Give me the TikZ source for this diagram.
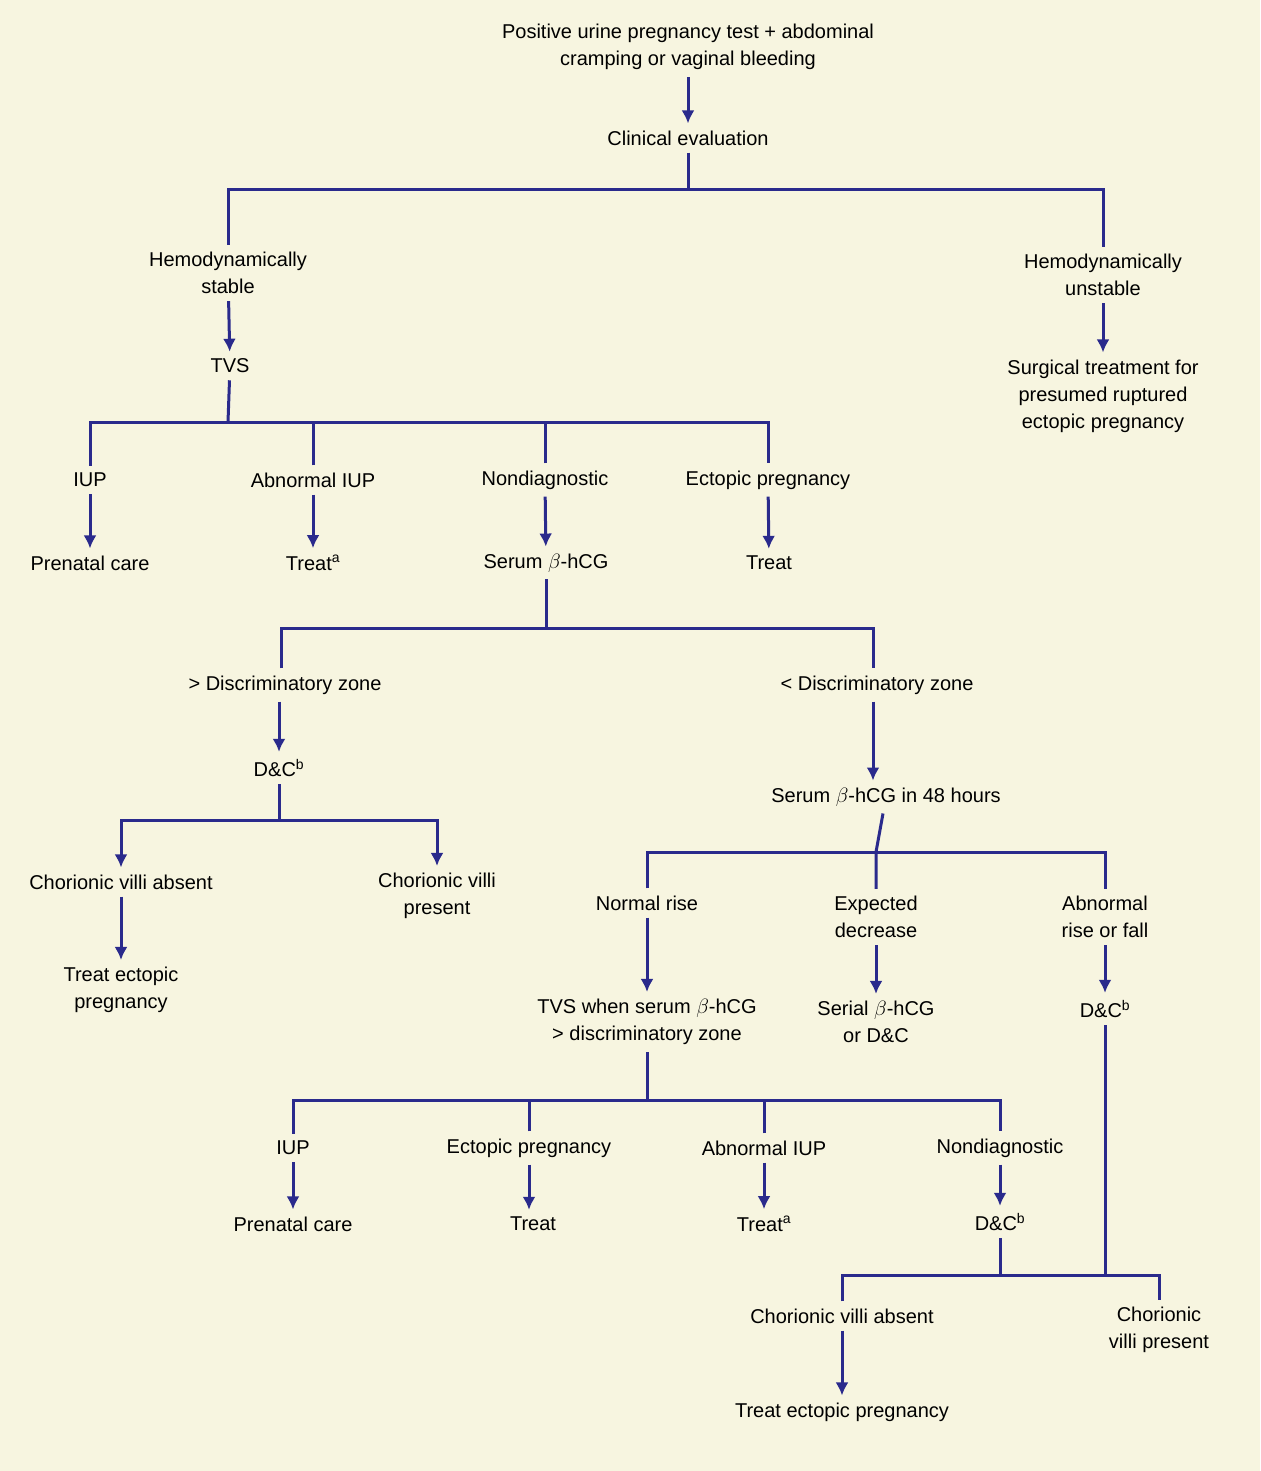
\documentclass[tikz,border=0pt]{standalone}
\usepackage{fontspec}
\setmainfont{Liberation Sans}
\usetikzlibrary{arrows.meta,positioning}
\definecolor{bgcol}{RGB}{247,245,224}
\definecolor{linecol}{RGB}{42,42,140}
\tikzset{
  box/.style={align=center,inner sep=7pt,font=\fontsize{20}{27}\selectfont,text=black},
  line/.style={draw=linecol,line width=3pt},
  arr/.style={line,-{Latex[length=13pt,width=13pt]}}
}
\begin{document}
\begin{tikzpicture}[x=1pt,y=-1pt]
  \fill[bgcol] (0,0) rectangle (1260,1471);
  \useasboundingbox (0,0) rectangle (1260,1471);
%%
  % Node: top part
  \node[box] (pos) at (688,47) {Positive urine pregnancy test + abdominal\\cramping or vaginal bleeding};
  \node[box] (clin) at (688,138) {Clinical evaluation};
  \node[box] (hs) at (228,273) {Hemodynamically\\stable};
  \node[box] (hu) at (1103,275) {Hemodynamically\\unstable};
  \node[box] (tvs) at (230,366) {TVS};
  \node[box] (surg) at (1103,396) {Surgical treatment for\\presumed ruptured\\ectopic pregnancy};
  % Node: TVS results
  \node[box] (iup) at (90,480) {IUP};
  \node[box] (abn) at (313,480) {Abnormal IUP};
  \node[box] (nond) at (545,480) {Nondiagnostic};
  \node[box] (ect) at (768,480) {Ectopic pregnancy};
  \node[box] (pre) at (90,563) {Prenatal care};
  \node[box] (treata) at (313,563) {Treat\textsuperscript{a}};
  \node[box] (ser) at (546,563) {Serum $\beta$-hCG};
  \node[box] (treat) at (769,563) {Treat};
  % Node: discriminatory zone
  \node[box] (gtdz) at (285,685) {> Discriminatory zone};
  \node[box] (ltdz) at (877,685) {< Discriminatory zone};
  \node[box] (dca) at (279,768) {D\&C\textsuperscript{b}};
  \node[box] (ser48) at (886,797) {Serum $\beta$-hCG in 48 hours};
  \node[box] (cva) at (121,882) {Chorionic villi absent};
  \node[box] (cvp) at (437,896) {Chorionic villi\\present};
  \node[box] (tep) at (121,990) {Treat ectopic\\pregnancy};
  % Node: 48 hours
  \node[box] (rise) at (647,903) {Normal rise};
  \node[box] (decr) at (876,917) {Expected\\decrease};
  \node[box] (arf) at (1105,917) {Abnormal\\rise or fall};
  \node[box] (tvsw) at (647,1022) {TVS when serum $\beta$-hCG\\> discriminatory zone};
  \node[box] (seri) at (876,1022) {Serial $\beta$-hCG\\or D\&C};
  \node[box] (dcb) at (1105,1009) {D\&C\textsuperscript{b}};
  % Node: second TVS results
  \node[box] (iup2) at (293,1148) {IUP};
  \node[box] (ect2) at (529,1148) {Ectopic pregnancy};
  \node[box] (abn2) at (764,1148) {Abnormal IUP};
  \node[box] (nond2) at (1000,1148) {Nondiagnostic};
  \node[box] (pre2) at (293,1224) {Prenatal care};
  \node[box] (treat2) at (533,1224) {Treat};
  \node[box] (treata2) at (764,1224) {Treat\textsuperscript{a}};
  \node[box] (dcc) at (1000,1222) {D\&C\textsuperscript{b}};
  \node[box] (cva2) at (842,1316) {Chorionic villi absent};
  \node[box] (cvp2) at (1159,1330) {Chorionic\\villi present};
  \node[box] (tep2) at (842,1412) {Treat ectopic pregnancy};
  % Bars
  \coordinate (b1) at (688,190);
  \coordinate (b2) at (228,422);
  \coordinate (b3) at (546,628);
  \coordinate (b4) at (279,820);
  \coordinate (b5) at (876,852);
  \coordinate (b6) at (647,1100);
  \coordinate (b7) at (1000,1275);
  \coordinate (b8) at (1105,1275);
%%
  % Edge: top
  \draw[arr] (pos) -- (clin);
  \draw[line] (clin) -- (b1);
  \draw[line] (hs) |- (b1) -| (hu);
  \draw[arr] (hs) -- (tvs);
  \draw[arr] (hu) -- (surg);
  % Edge: TVS
  \draw[line] (tvs) -- (b2);
  \draw[line] (iup) |- (b2) -| (ect);
  \draw[line] (abn) -- (abn |- b2);
  \draw[line] (nond) -- (nond |- b2);
  \draw[arr] (iup) -- (pre);
  \draw[arr] (abn) -- (treata);
  \draw[arr] (nond) -- (ser);
  \draw[arr] (ect) -- (treat);
  % Edge: serum
  \draw[line] (ser) -- (b3);
  \draw[line] (281,1 |- gtdz.north) |- (b3) -| (873,1 |- ltdz.north);
  \draw[arr] (dca |- gtdz.south) -- (dca);
  \draw[arr] (873,1 |- ltdz.south) -- (873,1 |- ser48.north);
  \draw[line] (dca) -- (b4);
  \draw[arr] (b4) -| (cva);
  \draw[arr] (b4) -| (cvp);
  \draw[arr] (cva) -- (tep);
  % Edge: 48 hours
  \draw[line] (ser48) -- (b5) -- (decr);
  \draw[line] (rise) |- (b5) -| (arf);
  \draw[arr] (rise) -- (tvsw);
  \draw[arr] (decr) -- (seri);
  \draw[arr] (arf) -- (dcb);
  % Edge: second TVS
  \draw[line] (tvsw) -- (b6);
  \draw[line] (iup2) |- (b6) -| (nond2);
  \draw[line] (ect2) -- (ect2 |- b6);
  \draw[line] (abn2) -- (abn2 |- b6);
  \draw[arr] (iup2) -- (pre2);
  \draw[arr] (ect2) -- (ect2 |- treat2.north);
  \draw[arr] (abn2) -- (treata2);
  \draw[arr] (nond2) -- (dcc);
  % Edge: D&C join
  \draw[line] (dcc) -- (b7);
  \draw[line] (dcb) -- (b8);
  \draw[line] (cva2) |- (b7) -- (b8) -| (cvp2);
  \draw[arr] (cva2) -- (tep2);
%
\end{tikzpicture}
\end{document}
